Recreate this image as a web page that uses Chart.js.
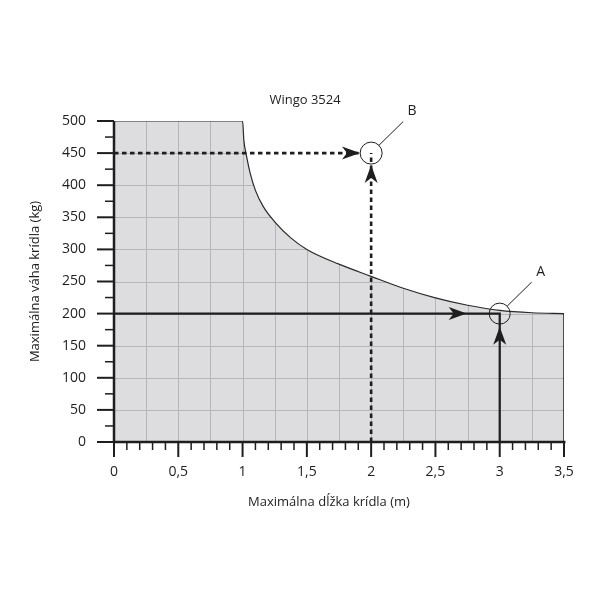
<!DOCTYPE html>
<html><head><meta charset="utf-8">
<script src="https://cdn.jsdelivr.net/npm/chart.js@4"></script>
<style>html,body{margin:0;padding:0;background:#fff}</style>
</head><body>
<canvas id="c" width="600" height="600"></canvas>
<script>
const chartTitle = 'Wingo 3524';
const xAxisTitle = 'Maximálna dĺžka krídla (m)';
const yAxisTitle = 'Maximálna váha krídla (kg)';
const xTickValues = [0, 0.5, 1, 1.5, 2, 2.5, 3, 3.5];
const yTickValues = [0, 50, 100, 150, 200, 250, 300, 350, 400, 450, 500];
const xMinorStep = 0.1, yMinorStep = 25, xGridStep = 0.25, yGridStep = 50;

// envelope of allowed wing length / weight
const envelopeX = [0, 1, 1.01, 1.03, 1.06, 1.1, 1.16, 1.25, 1.375, 1.5, 1.75, 2, 2.25, 2.5, 2.75, 3, 3.25, 3.5];
const envelopeY = [500, 500, 470, 446, 418, 392, 367, 343, 318, 300, 277, 258, 239.5, 224.5, 213, 205, 201.3, 200];
const edgeX = [3.5, 3.5];
const edgeY = [0, 200];

// example B (dashed) and A (solid)
const bHorizX = [0, 1.92], bHorizY = [450, 450];
const bVertX = [2, 2], bVertY = [0, 450];
const aPathX = [0, 3, 3], aPathY = [200, 200, 0];
const calloutLabels = ['B', 'A'];
const calloutX = [2, 3];
const calloutY = [450, 200];
const arrowX = [1.913, 2, 2.743, 3];
const arrowY = [450, 431.5, 200, 179.6];
const arrowDir = ['right', 'up', 'right', 'up'];

const pts = (xs, ys) => xs.map((x, i) => ({x, y: ys[i]}));
const FONT = 'Open Sans';
const INK = '#1e1e1e';

const overlay = {
  id: 'overlay',
  beforeDatasetDraw(chart, args) {
    if (args.index !== 0) return;
    const {ctx, chartArea: a, scales: {x, y}} = chart;
    ctx.save();
    ctx.globalCompositeOperation = 'source-atop';
    ctx.strokeStyle = '#b6b6b8';
    ctx.lineWidth = 1;
    ctx.beginPath();
    for (let v = xGridStep; v < x.max - 1e-9; v += xGridStep) {
      const px = Math.round(x.getPixelForValue(v)) + 0.5;
      ctx.moveTo(px, a.top); ctx.lineTo(px, a.bottom);
    }
    for (let v = yGridStep; v < y.max - 1e-9; v += yGridStep) {
      const py = Math.round(y.getPixelForValue(v)) + 0.5;
      ctx.moveTo(a.left, py); ctx.lineTo(a.right, py);
    }
    ctx.stroke();
    ctx.restore();
  },
  afterDatasetsDraw(chart) {
    const {ctx, scales: {x, y}} = chart;
    const x0 = x.getPixelForValue(x.min), x1 = x.getPixelForValue(x.max);
    const y0 = y.getPixelForValue(y.min), y1 = y.getPixelForValue(y.max);
    ctx.save();
    ctx.strokeStyle = INK; ctx.fillStyle = INK;
    // axis lines
    ctx.lineWidth = 2.5;
    ctx.beginPath();
    ctx.moveTo(x0, y1); ctx.lineTo(x0, y0 + 1);
    ctx.moveTo(x0 - 1, y0); ctx.lineTo(x1 + 1.5, y0);
    ctx.stroke();
    // y ticks
    for (let v = y.min; v <= y.max + 1e-9; v += yMinorStep) {
      const major = yTickValues.some(t => Math.abs(t - v) < 1e-6);
      const py = y.getPixelForValue(v);
      ctx.lineWidth = major ? 2 : 1.5;
      ctx.beginPath(); ctx.moveTo(x0, py); ctx.lineTo(x0 - (major ? 17 : 9), py); ctx.stroke();
    }
    // x ticks
    for (let i = 0; x.min + i * xMinorStep <= x.max + 1e-9; i++) {
      const v = x.min + i * xMinorStep;
      const major = xTickValues.some(t => Math.abs(t - v) < 1e-6);
      const px = x.getPixelForValue(v);
      ctx.lineWidth = major ? 2 : 1.5;
      ctx.beginPath(); ctx.moveTo(px, y0); ctx.lineTo(px, y0 + (major ? 15 : 8)); ctx.stroke();
    }
    // arrowheads
    arrowX.forEach((ax, i) => {
      const px = x.getPixelForValue(ax), py = y.getPixelForValue(arrowY[i]);
      const ang = arrowDir[i] === 'right' ? 0 : -Math.PI / 2;
      ctx.save(); ctx.translate(px, py); ctx.rotate(ang);
      ctx.beginPath();
      ctx.moveTo(0, 0); ctx.lineTo(-18, -6.5); ctx.lineTo(-13, 0); ctx.lineTo(-18, 6.5);
      ctx.closePath(); ctx.fill(); ctx.restore();
    });
    // callouts
    ctx.lineWidth = 1;
    ctx.font = '14px "' + FONT + '"';
    ctx.textAlign = 'center'; ctx.textBaseline = 'middle';
    calloutLabels.forEach((lab, i) => {
      const cx = x.getPixelForValue(calloutX[i]), cy = y.getPixelForValue(calloutY[i]);
      ctx.beginPath(); ctx.moveTo(cx + 7.5, cy - 7.5); ctx.lineTo(cx + 32, cy - 31.5); ctx.stroke();
      ctx.fillText(lab, cx + 41, cy - 42);
    });
    // titles
    ctx.font = '13px "' + FONT + '"';
    ctx.fillText(chartTitle, 305, 100);
    ctx.fillText(xAxisTitle, (x0 + x1) / 2 - 10, 502);
    ctx.restore();
  }
};

new Chart(document.getElementById('c'), {
  type: 'line',
  data: {
    datasets: [
      {label: 'envelope', data: pts(envelopeX, envelopeY), fill: 'origin', backgroundColor: '#dddddf',
       borderColor: '#2a2a2a', borderWidth: 1.2, pointRadius: 0, cubicInterpolationMode: 'monotone', order: 10},
      {label: 'edge', data: pts(edgeX, edgeY), fill: false, borderColor: '#2a2a2a', borderWidth: 1.6, pointRadius: 0, order: 5},
      {label: 'B horizontal', data: pts(bHorizX, bHorizY), fill: false, borderColor: INK, borderWidth: 2.6,
       borderDash: [4.5, 3.5], pointRadius: 0},
      {label: 'B vertical', data: pts(bVertX, bVertY), fill: false, borderColor: INK, borderWidth: 2.6,
       borderDash: [4.5, 3.5], pointRadius: 0},
      {label: 'A', data: pts(aPathX, aPathY), fill: false, borderColor: INK, borderWidth: 2.2, pointRadius: 0},
      {label: 'circles', data: pts(calloutX, calloutY), showLine: false, fill: false, pointRadius: [11, 10.5],
       pointBorderWidth: 1, pointBorderColor: INK, pointBackgroundColor: 'rgba(0,0,0,0)', clip: false}
    ]
  },
  options: {
    responsive: false, animation: false, devicePixelRatio: 1,
    layout: {padding: {left: 20, right: 36, top: 121, bottom: 85}},
    plugins: {legend: {display: false}, tooltip: {enabled: false}, title: {display: false}},
    scales: {
      x: {
        type: 'linear', min: 0, max: 3.5,
        afterBuildTicks(s) { s.ticks = xTickValues.map(v => ({value: v})); },
        afterFit(s) { s.height = 73; },
        ticks: {callback: v => String(v).replace('.', ','), padding: 22, color: INK,
                font: {family: FONT, size: 14}, maxRotation: 0, autoSkip: false},
        grid: {display: false, drawTicks: false}, border: {display: false}
      },
      y: {
        type: 'linear', min: 0, max: 500,
        afterBuildTicks(s) { s.ticks = yTickValues.map(v => ({value: v})); },
        afterFit(s) { s.width = 94; },
        ticks: {padding: 28, color: INK, font: {family: FONT, size: 14}, autoSkip: false},
        grid: {display: false, drawTicks: false}, border: {display: false},
        title: {display: true, text: yAxisTitle, color: INK, font: {family: FONT, size: 13}, padding: {top: 7, bottom: 0}}
      }
    }
  },
  plugins: [overlay]
});
</script>
</body></html>
